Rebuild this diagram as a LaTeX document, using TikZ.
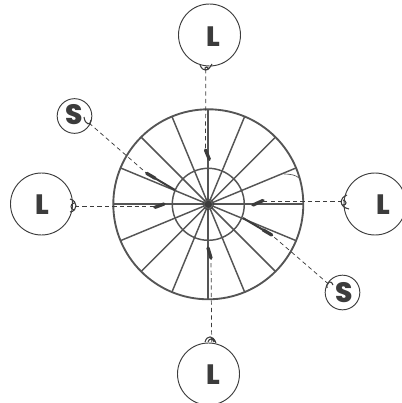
\documentclass[tikz,border=0pt]{standalone}
\usepackage{fontspec}
\setmainfont{Poppins}[BoldFont={Poppins ExtraBold}]
\usepackage{xcolor}
\usetikzlibrary{calc}

\definecolor{rimgray}{RGB}{85,85,85}
\definecolor{inkgray}{RGB}{60,60,60}

\begin{document}
\begin{tikzpicture}[x=0.75pt,y=0.75pt,yscale=-1,xscale=1,
  balloonL/.style={draw=inkgray,circle,line width=0.7pt,minimum size=46.5pt,inner sep=0pt},
  balloonS/.style={draw=inkgray,circle,line width=0.7pt,minimum size=26pt,inner sep=0pt},
  letter/.style={inner sep=0pt,text=inkgray,font=\fontsize{21}{21}\bfseries\selectfont},
  rim/.style={draw=rimgray,line width=1.4pt},
  spoke/.style={draw=rimgray,line width=1.1pt},
  tether/.style={draw=inkgray,line width=0.55pt,dash pattern=on 3.2pt off 2.4pt},
  clamp/.style={draw=inkgray,line width=2.5pt,line cap=round},
  knot/.style={draw=inkgray,line width=0.8pt}]
\useasboundingbox (0,0) rectangle (402,403);

% Wheel
\coordinate (hub) at (208.3,204.3);
\draw [rim] (hub) circle [radius=71.25pt];
\draw [rim,line width=1.1pt] (hub) circle [radius=27pt];
\foreach \a in {22.5,45,67.5,112.5,135,157.5,202.5,225,247.5,292.5,315,337.5}
  \draw [spoke] (hub) -- ++(\a:71.25pt);
\foreach \a in {0,90,180,270}
  \draw [spoke,line width=1.3pt] (hub) -- ++(\a:71.25pt);
\fill [inkgray] (hub) circle [radius=3.5];
\draw [inkgray,line width=0.4pt] (hub) ++(-5.5,0) arc [start angle=180,end angle=540,radius=5.5];
\draw [rimgray,line width=0.5pt] (284,174) .. controls (290,174) and (296,175) .. (299,178);

% Balloons
\node [balloonL] (ltop) at (209.5,35) {};
\node [balloonL] (lbottom) at (208.5,374) {};
\node [balloonL] (lleft) at (41.5,204) {};
\node [balloonL] (lright) at (375,204) {};
\node [balloonS] (supper) at (74.5,116) {};
\node [balloonS] (slower) at (342.5,292.5) {};

% Text Node
\node [letter] (ltoptext) at (213.7,36.5) {L};
\node [letter] (lbottomtext) at (213.3,374.7) {L};
\node [letter] (llefttext) at (42,205) {L};
\node [letter] (lrighttext) at (383,205) {L};
\node [letter] (suppertext) at (74,115) {S};
\node [letter] (slowertext) at (344.5,293) {S};

% Ends of the tethers
\coordinate (ctop) at (205.5,150);
\coordinate (ctopend) at (209.3,159.3);
\coordinate (cbottom) at (208,248);
\coordinate (cbottomend) at (211,258);
\coordinate (cleft) at (155,207.3);
\coordinate (cleftend) at (164,204);
\coordinate (cright) at (253,205);
\coordinate (crightend) at (263,200.5);
\coordinate (cupper) at (146.7,173.3);
\coordinate (cupperend) at (175,190);
\coordinate (clower) at (243,218);
\coordinate (clowerend) at (271.7,235);
\coordinate (kleft) at (75,206.8);
\coordinate (kright) at (342,201.7);
\coordinate (ktop) at (205.8,69);
\coordinate (kbottom) at (211.7,342);
\coordinate (kupper) at (89,123);
\coordinate (klower) at (328.5,284);

% Connection
\draw [tether] (ktop) -- (ctop);
\draw [tether] (kbottom) -- (cbottomend);
\draw [tether] (kleft) -- (cleft |- kleft);
\draw [tether] (kright) -- (crightend |- kright);
\draw [tether] (kupper) -- (cupper);
\draw [tether] (klower) -- (clowerend);
\draw [clamp] (ctop) -- (ctopend);
\draw [clamp] (cbottom) -- (cbottomend);
\draw [clamp] (cleft) -- (cleftend);
\draw [clamp] (cright) -- (crightend);
\draw [clamp] (cupper) -- ($(cupper)!0.3!(cupperend)$);
\draw [inkgray,line width=1.5pt] (cupper) -- (cupperend);
\draw [inkgray,line width=1.5pt] (clower) -- (clowerend);
\draw [clamp] ($(clower)!0.7!(clowerend)$) -- (clowerend);

% Knots
\draw [knot] (200,65) .. controls (203,72) and (208,72) .. (212,64) (205,70) .. controls (204,66) and (209,66) .. (208,70);
\draw [knot] (205,342) .. controls (207,335) and (213,335) .. (216,343) (208,342) .. controls (209,338) and (213,338) .. (214,342);
\draw [knot] (70,199) .. controls (78,201) and (78,211) .. (70,212) (74,203) .. controls (70,204) and (70,209) .. (74,210);
\draw [knot] (347,195) .. controls (339,198) and (339,207) .. (349,209) (343,200) .. controls (347,201) and (347,205) .. (343,205);
\draw [knot] (84,117) .. controls (85,125) and (91,126) .. (91,120);
\draw [knot] (327,288) .. controls (326,281) and (332,280) .. (333,285);
\end{tikzpicture}
\end{document}
